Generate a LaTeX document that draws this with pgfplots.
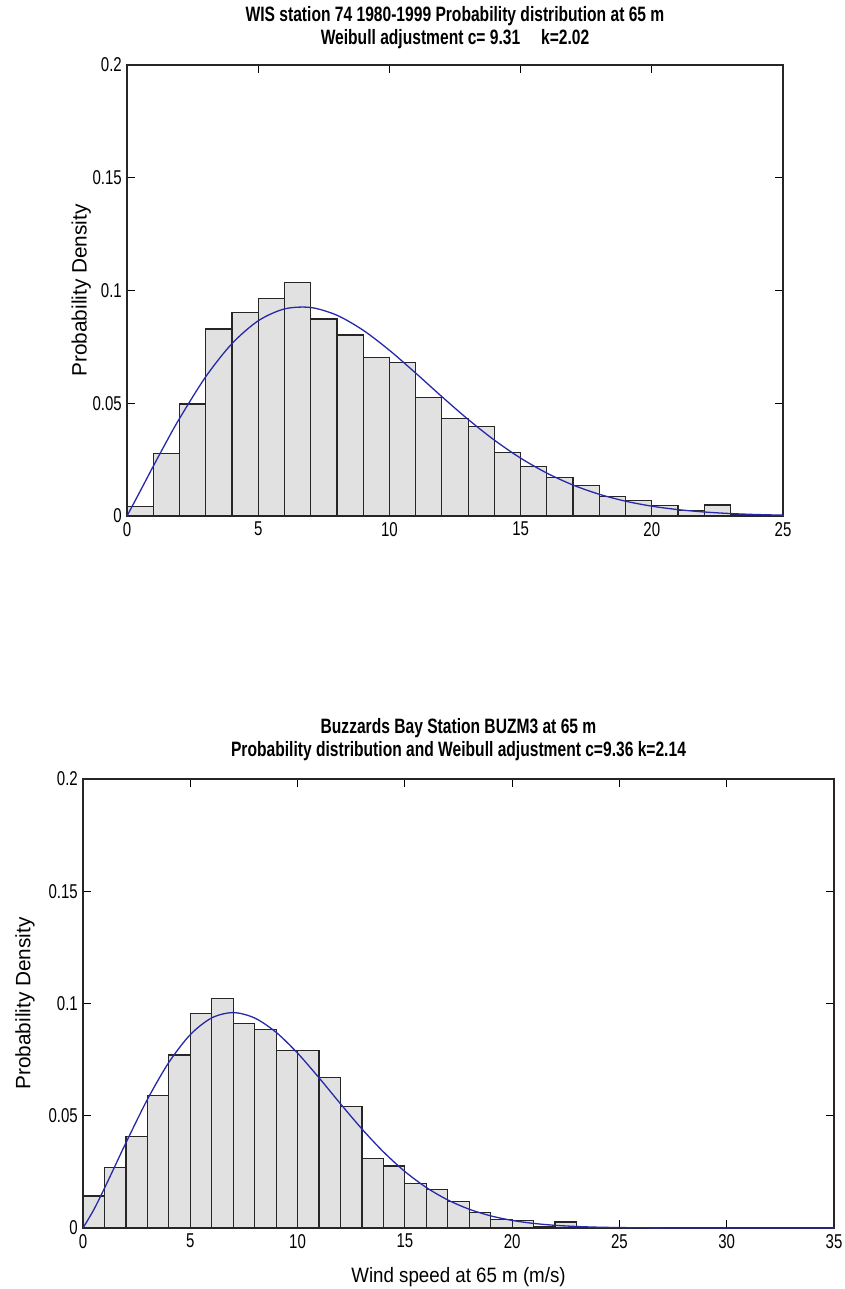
\documentclass[border=0pt]{standalone}
\usepackage{fontspec}
\setmainfont{Liberation Sans}
\newfontfamily\tickfamily{Liberation Sans}[FakeStretch=0.75]
\newfontfamily\titlefamily{Liberation Sans}[FakeStretch=0.75]
\newfontfamily\xlabfamily{Liberation Sans}[FakeStretch=0.9]
\usepackage{pgfplots}
\pgfplotsset{compat=1.18}
\definecolor{barfill}{RGB}{225,225,225}
\definecolor{fitblue}{RGB}{40,40,170}

\pgfplotsset{
  mlstyle/.style={
    scale only axis,
    anchor=south west,
    ymin=0, ymax=0.2,
    ytick={0,0.05,0.1,0.15,0.2},
    yticklabels={0,0.05,0.1,0.15,0.2},
    scaled y ticks=false,
    tick align=inside,
    major tick length=8pt,
    tick style={black, line width=1pt},
    axis line style={black!85, line width=1.3pt},
    ticklabel style={font=\tickfamily\fontsize{20}{24}\selectfont},
    yticklabel style={anchor=east, inner sep=0pt, xshift=-5pt},
    xticklabel style={anchor=north, inner sep=0pt, yshift=-6pt},
    title style={font=\titlefamily\bfseries\fontsize{20.8}{23}\selectfont, align=center, anchor=south, inner sep=0pt},
    every axis y label/.style={rotate=90, anchor=base, inner sep=0pt, font=\fontsize{20.8}{24}\selectfont},
    every axis x label/.style={anchor=base, inner sep=0pt, font=\xlabfamily\fontsize{20.8}{24}\selectfont},
  }
}

\begin{document}
\begin{tikzpicture}
\useasboundingbox (0pt,0pt) rectangle (845pt,-1289pt);

% ---------- top chart ----------
\begin{axis}[mlstyle,
  at={(127pt,-516pt)},
  width=656pt, height=451pt,
  xmin=0, xmax=25,
  xtick={0,5,10,15,20,25},
  xticklabels={0,5,10,15,20,25},
  title={WIS station 74 1980-1999 Probability distribution at 65 m\\Weibull adjustment c= 9.31\quad k=2.02},
  title style={at={(axis description cs:0.5,1)}, yshift=9.6pt},
  ylabel={Probability Density},
  ylabel style={at={(axis description cs:-0.0614,0.5)}},
]
\addplot[ybar interval, fill=barfill, draw=black!85, line width=1.2pt] coordinates {
(0,0.0042) (1,0.0277) (2,0.0497) (3,0.0829) (4,0.0904) (5,0.0964)
(6,0.1037) (7,0.0874) (8,0.0803) (9,0.0703) (10,0.0681) (11,0.0527)
(12,0.0433) (13,0.0397) (14,0.0283) (15,0.0220) (16,0.0171) (17,0.0134)
(18,0.0085) (19,0.0070) (20,0.0047) (21,0.0025) (22,0.0049) (23,0.0008)
(24,0.0004) (25,0)
};
\addplot[fitblue, line width=1.3pt, smooth] coordinates {
(0,0) (0.5,0.01096) (1,0.02205) (1.5,0.03287) (2,0.04322) (3,0.06175)
(4,0.07644) (5,0.08656) (6,0.09183) (7,0.09246) (8,0.08903) (9,0.08238)
(10,0.07350) (11,0.06339) (12,0.05293) (13,0.04283) (14,0.03365)
(15,0.02567) (16,0.01903) (17,0.01372) (18,0.00963) (19,0.00657)
(20,0.00436) (21,0.00283) (22,0.00178) (23,0.00109) (24,0.00065) (25,0.00038)
};
\end{axis}

% ---------- bottom chart ----------
\begin{axis}[mlstyle,
  at={(83pt,-1228pt)},
  width=751pt, height=449pt,
  xmin=0, xmax=35,
  xtick={0,5,10,15,20,25,30,35},
  xticklabels={0,5,10,15,20,25,30,35},
  title={Buzzards Bay Station BUZM3 at 65 m\\Probability distribution and Weibull adjustment c=9.36 k=2.14},
  title style={at={(axis description cs:0.5,1)}, yshift=11.6pt},
  ylabel={Probability Density},
  ylabel style={at={(axis description cs:-0.070,0.5)}},
  xlabel={Wind speed at 65 m (m/s)},
  xlabel style={at={(axis description cs:0.5,-0.1203)}},
]
\addplot[ybar interval, fill=barfill, draw=black!85, line width=1.2pt] coordinates {
(0,0.0143) (1,0.0271) (2,0.0407) (3,0.0591) (4,0.0771) (5,0.0956)
(6,0.1022) (7,0.0912) (8,0.0885) (9,0.0791) (10,0.0791) (11,0.0670)
(12,0.0540) (13,0.0311) (14,0.0276) (15,0.0198) (16,0.0170) (17,0.0118)
(18,0.0069) (19,0.0038) (20,0.0032) (21,0.0007) (22,0.0027) (23,0.0003)
(24,0) (25,0) (26,0) (27,0) (28,0) (29,0) (30,0) (31,0) (32,0) (33,0) (34,0) (35,0)
};
\addplot[fitblue, line width=1.3pt, smooth] coordinates {
(0,0) (0.5,0.00810) (1,0.01771) (1.5,0.02780) (2,0.03794) (3,0.05725)
(4,0.07376) (5,0.08614) (6,0.09360) (7,0.09596) (8,0.09355) (9,0.08717)
(10,0.07790) (11,0.06691) (12,0.05534) (13,0.04411) (14,0.03393)
(15,0.02518) (16,0.01805) (17,0.01250) (18,0.00837) (19,0.00542)
(20,0.00339) (21,0.00205) (22,0.00120) (23,0.00068) (24,0.00037)
(25,0.00020) (26,0.00010) (27,0.00005) (28,0.00002) (30,0.000004) (35,0)
};
\end{axis}
\end{tikzpicture}
\end{document}
